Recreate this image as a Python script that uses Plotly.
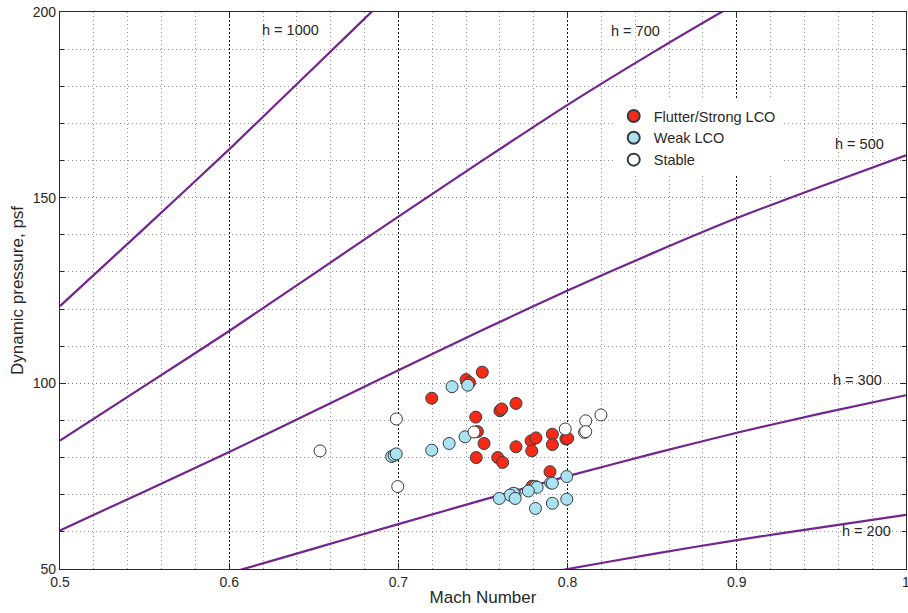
import plotly.graph_objects as go

# ---- data ----
mach_grid = [0.50, 0.55, 0.60, 0.65, 0.70, 0.75, 0.80, 0.85, 0.90, 0.95, 1.00]
q_h1000 = [120.8, 141.8, 163.0, 185.0, 207.0, 228.7, 250.0, 270.0, 289.0, 306.2, 322.8]
q_h700 = [84.6, 99.3, 114.1, 129.5, 144.9, 160.1, 175.0, 189.0, 202.3, 214.3, 226.0]
q_h500 = [60.4, 70.9, 81.5, 92.5, 103.5, 114.4, 125.0, 135.0, 144.5, 153.1, 161.4]
q_h300 = [36.2, 42.5, 48.9, 55.5, 62.1, 68.6, 75.0, 81.0, 86.7, 91.9, 96.8]
q_h200 = [24.2, 28.4, 32.6, 37.0, 41.4, 45.7, 50.0, 54.0, 57.8, 61.2, 64.6]

curve_names = ["h = 1000", "h = 700", "h = 500", "h = 300", "h = 200"]
label_mach = [0.636, 0.8404, 0.9728, 0.9716, 0.9764]
label_q = [195.1, 194.9, 164.4, 100.9, 60.2]

flutter_mach = [0.7197, 0.740, 0.742, 0.7496, 0.7457, 0.7695, 0.760, 0.761, 0.7467, 0.7506,
                0.746, 0.7587, 0.7616, 0.7695, 0.7784, 0.7813, 0.7788, 0.791, 0.791, 0.799,
                0.800, 0.7896, 0.779]
flutter_q = [96.0, 101.0, 100.2, 103.0, 90.9, 94.6, 92.6, 93.1, 87.0, 83.8,
             80.0, 80.0, 78.7, 82.9, 84.5, 85.3, 81.8, 86.3, 83.5, 85.0,
             85.2, 76.2, 72.3]

weak_mach = [0.696, 0.6975, 0.6987, 0.7197, 0.730, 0.7317, 0.741, 0.7394, 0.7995, 0.790,
             0.791, 0.781, 0.782, 0.7768, 0.769, 0.768, 0.766, 0.769, 0.7596, 0.781,
             0.791, 0.7995]
weak_q = [80.3, 80.6, 81.0, 82.0, 83.8, 99.1, 99.5, 85.6, 74.9, 73.2,
          73.1, 72.2, 72.0, 71.0, 70.2, 70.4, 69.9, 69.0, 69.0, 66.3,
          67.7, 68.8]

stable_mach = [0.6537, 0.6988, 0.6996, 0.7447, 0.7986, 0.8107, 0.810, 0.8107, 0.8197]
stable_q = [81.8, 90.4, 72.2, 86.9, 87.7, 89.9, 86.8, 87.0, 91.5]

x_ticks = [0.5, 0.6, 0.7, 0.8, 0.9, 1.0]
x_tick_text = ["0.5", "0.6", "0.7", "0.8", "0.9", "1"]
y_ticks = [50, 100, 150, 200]

# ---- styles ----
PURPLE = "rgb(114,36,144)"
EDGE = "rgb(55,60,65)"
FONT = "Liberation Sans, Arial, Helvetica, sans-serif"
TXT = "rgb(40,40,40)"
MINOR = "rgb(150,150,150)"

fig = go.Figure()

for name, qs in zip(curve_names, [q_h1000, q_h700, q_h500, q_h300, q_h200]):
    fig.add_trace(go.Scatter(
        x=mach_grid, y=qs, mode="lines", name=name, showlegend=False,
        line=dict(color=PURPLE, width=2.2, shape="spline", smoothing=0.6),
        hoverinfo="skip"))

def add_points(xs, ys, fill, name):
    fig.add_trace(go.Scatter(
        x=xs, y=ys, mode="markers", name=name,
        marker=dict(symbol="circle", size=12, color=fill,
                    line=dict(color=EDGE, width=1))))

add_points(flutter_mach, flutter_q, "rgb(246,42,22)", "Flutter/Strong LCO")
add_points(weak_mach, weak_q, "rgb(170,226,242)", "Weak LCO")
add_points(stable_mach, stable_q, "white", "Stable")

for name, mx, qy in zip(curve_names, label_mach, label_q):
    fig.add_annotation(x=mx, y=qy, text=name, showarrow=False,
                       font=dict(family=FONT, size=14.5, color=TXT))

fig.update_layout(
    width=908, height=613,
    margin=dict(l=60, r=2, t=12, b=44),
    paper_bgcolor="white", plot_bgcolor="white",
    font=dict(family=FONT, size=14, color=TXT),
    showlegend=True,
    legend=dict(x=0.6545, y=0.842, xanchor="left", yanchor="top",
                bgcolor="white", borderwidth=0,
                font=dict(family=FONT, size=14.5, color=TXT),
                itemsizing="constant", tracegroupgap=0),
)

fig.update_xaxes(
    range=[0.5, 1.0], tickmode="array", tickvals=x_ticks, ticktext=x_tick_text,
    automargin=False, ticklabeloverflow="allow",
    showgrid=True, gridcolor="rgb(20,20,20)", griddash="2px,2px", gridwidth=1,
    minor=dict(dtick=0.02, tick0=0.5, showgrid=True, gridcolor=MINOR,
               griddash="1px,3px", gridwidth=1),
    showline=True, linecolor="rgb(40,40,40)", linewidth=1.3, mirror="ticks",
    ticks="inside", ticklen=6, tickcolor="rgb(40,40,40)",
    zeroline=False,
    title=dict(text="Mach Number", font=dict(family=FONT, size=17, color=TXT), standoff=2),
    tickfont=dict(family=FONT, size=14, color=TXT),
)
fig.update_yaxes(
    range=[50, 200], tickmode="array", tickvals=y_ticks,
    automargin=False, ticklabeloverflow="allow",
    showgrid=True, gridcolor="rgb(120,120,120)", griddash="1px,3px", gridwidth=1,
    minor=dict(dtick=10, tick0=50, showgrid=True, gridcolor=MINOR,
               griddash="1px,3px", gridwidth=1, ticks="inside", ticklen=4,
               tickcolor="rgb(40,40,40)"),
    showline=True, linecolor="rgb(40,40,40)", linewidth=1.3, mirror="ticks",
    ticks="inside", ticklen=6, tickcolor="rgb(40,40,40)",
    zeroline=False,
    title=dict(text="Dynamic pressure, psf", font=dict(family=FONT, size=17, color=TXT), standoff=4),
    tickfont=dict(family=FONT, size=14, color=TXT),
)

# remove the page's default body margin so the 908x613 figure fills the window
fig.write_html("out.html",
               config={"displayModeBar": False},
               post_script="document.body.style.margin='0';document.body.style.overflow='hidden';")
